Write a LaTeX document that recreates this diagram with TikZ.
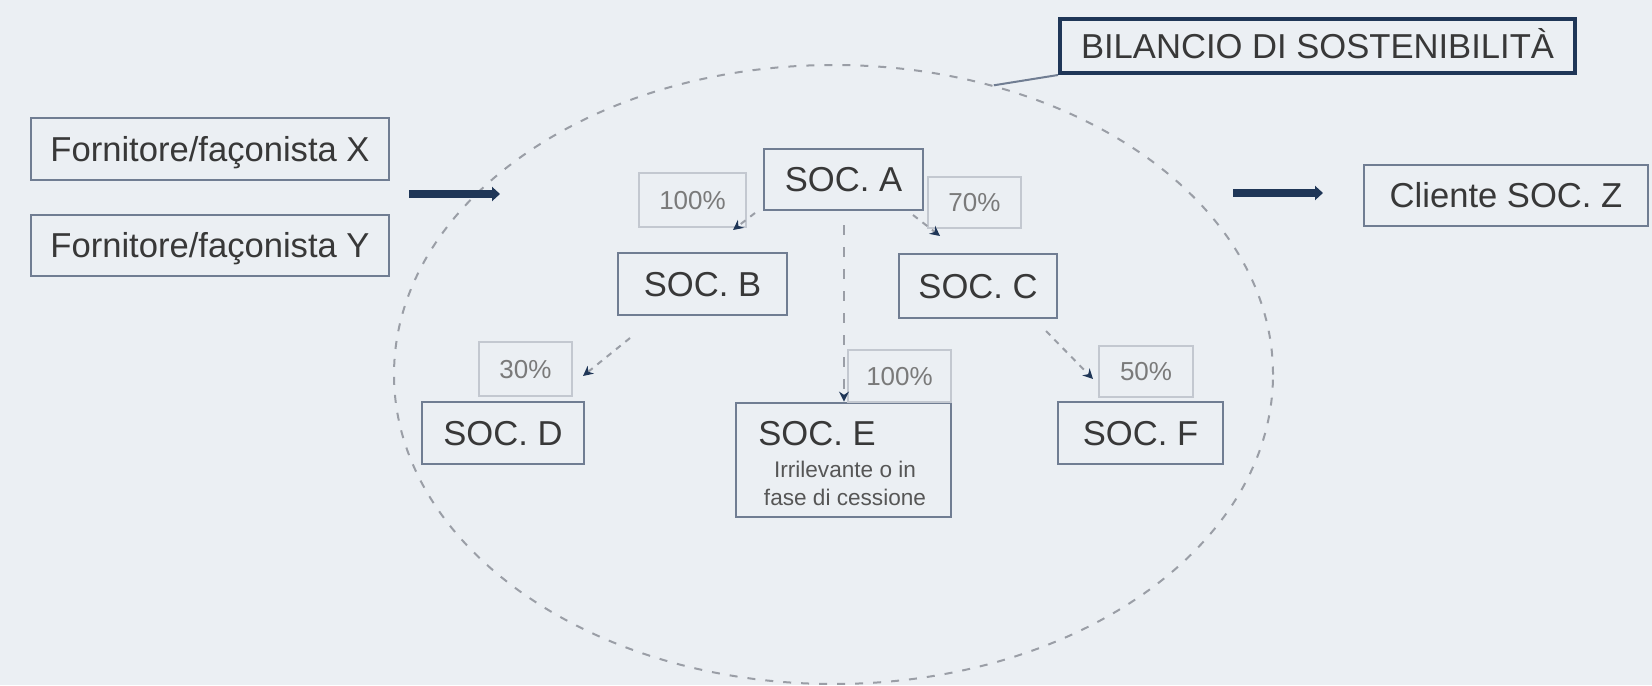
\documentclass[tikz,border=0pt]{standalone}
\usepackage{fontspec}
\setmainfont{Liberation Sans}
\usetikzlibrary{arrows.meta,shapes.geometric}
\definecolor{bg}{HTML}{EBEFF3}
\definecolor{boxline}{HTML}{707D92}
\definecolor{navy}{HTML}{1F3657}
\definecolor{lblline}{HTML}{C3C8D0}
\definecolor{txt}{HTML}{383838}
\definecolor{lbltxt}{HTML}{7A7A7A}
\definecolor{dashgrey}{HTML}{9A9EA6}
\begin{document}
\begin{tikzpicture}[x=0.5pt,y=-0.5pt,
  box/.style={draw=boxline, line width=1.4pt, fill=bg, inner sep=0pt, text=txt,
    font=\fontsize{17.3}{20}\selectfont, text height=12.4pt, text depth=0pt},
  lbl/.style={draw=lblline, line width=1.3pt, fill=bg, inner sep=0pt, text=lbltxt,
    font=\fontsize{13}{15}\selectfont, text height=9.3pt, text depth=0pt},
  bigarrow/.style={draw=navy, line width=4pt, -{Triangle[length=4pt,width=7pt]}},
  dasharrow/.style={draw=dashgrey, line width=1pt, dash pattern=on 3pt off 3pt,
    -{Stealth[length=5pt,width=5pt,color=navy]}},
]
\fill[bg] (0,0) rectangle (1652,685);
\useasboundingbox (0,0) rectangle (1652,685);

% perimeter ellipse
\node[ellipse, draw=dashgrey, line width=1pt, dash pattern=on 4pt off 5pt, inner sep=0pt,
  minimum width=439.5pt, minimum height=309.5pt] (ell) at (833.5,374.5) {};

% title box
\node[box, draw=navy, line width=2pt, minimum width=257.5pt, minimum height=27pt] (BIL) at (1317.5,46) {BILANCIO DI SOSTENIBILITÀ};
\draw[boxline, line width=1pt] (BIL.south west) -- (ell.61);

% suppliers and client
\node[box, minimum width=179pt, minimum height=31pt] (FX) at (210,149) {Fornitore/façonista X};
\node[box, minimum width=179pt, minimum height=30.5pt] (FY) at (210,245.5) {Fornitore/façonista Y};
\node[box, minimum width=142pt, minimum height=30.5pt] (CZ) at (1506,195.5) {Cliente SOC. Z};

\coordinate (inS) at (409,194);
\coordinate (inT) at (500,194);
\draw[bigarrow] (inS) -- (inT);
\coordinate (outS) at (1233,193);
\coordinate (outT) at (1323,193);
\draw[bigarrow] (outS) -- (outT);

% companies
\node[box, minimum width=79.5pt, minimum height=30.5pt] (A) at (843.5,179.5) {SOC. A};
\node[box, minimum width=84.5pt, minimum height=31pt] (B) at (702.5,284) {SOC. B};
\node[box, minimum width=79pt, minimum height=32pt] (C) at (978,286) {SOC. C};
\node[box, minimum width=81pt, minimum height=31pt] (D) at (503,433) {SOC. D};
\node[box, minimum width=107.5pt, minimum height=57pt] (E) at (843.5,460) {};
\node[anchor=base west, inner sep=0pt, text=txt, font=\fontsize{17.3}{20}\selectfont] (Et) at (758,445) {SOC. E};
\node[anchor=base, inner sep=0pt, text=txt!85, font=\fontsize{11.3}{13}\selectfont] (Es1) at (845,477) {Irrilevante o in};
\node[anchor=base, inner sep=0pt, text=txt!85, font=\fontsize{11.3}{13}\selectfont] (Es2) at (845,505) {fase di cessione};
\node[box, minimum width=82.5pt, minimum height=31pt] (F) at (1140.5,433) {SOC. F};

% percentage labels
\node[lbl, minimum width=53.5pt, minimum height=27pt] (LB) at (692.5,200) {100\%};
\node[lbl, minimum width=46.5pt, minimum height=25.5pt] (LC) at (974.5,202.5) {70\%};
\node[lbl, minimum width=46.5pt, minimum height=27pt] (LD) at (525.5,369) {30\%};
\node[lbl, minimum width=51.5pt, minimum height=26pt] (LE) at (899.5,376) {100\%};
\node[lbl, minimum width=47pt, minimum height=25.5pt] (LF) at (1146,371.5) {50\%};

% ownership arrows
\coordinate (sAB) at (755,213);
\coordinate (tAB) at (733,230);
\draw[dasharrow] (sAB) -- (tAB);
\coordinate (sAC) at (913,215);
\coordinate (tAC) at (940,236);
\draw[dasharrow] (sAC) -- (tAC);
\coordinate (sBD) at (630,338);
\coordinate (tBD) at (583,376);
\draw[dasharrow] (sBD) -- (tBD);
\coordinate (sCF) at (1046,331);
\coordinate (tCF) at (1093,379);
\draw[dasharrow] (sCF) -- (tCF);
\coordinate (sAE) at (844,225);
\draw[dasharrow, line width=1.4pt, dash pattern=on 5pt off 6pt] (sAE) -- (sAE |- E.north);
\end{tikzpicture}
\end{document}
